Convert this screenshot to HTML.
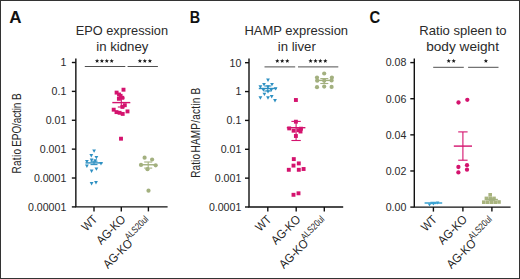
<!DOCTYPE html><html><head><meta charset="utf-8"><style>html,body{margin:0;padding:0;background:#fff;overflow:hidden}svg{display:block}text{font-family:"Liberation Sans",sans-serif}</style></head><body>
<svg width="520" height="279" viewBox="0 0 520 279">
<rect x="0" y="0" width="520" height="279" fill="#fff"/>
<rect x="0.5" y="0.5" width="519" height="278" fill="none" stroke="#333" stroke-width="1"/>
<text x="9.2" y="22.5" font-size="17" font-weight="bold" fill="#111">A</text>
<text x="189.7" y="22.5" font-size="17" font-weight="bold" textLength="10.4" lengthAdjust="spacingAndGlyphs" fill="#111">B</text>
<text x="369.6" y="22.6" font-size="17" font-weight="bold" textLength="10.7" lengthAdjust="spacingAndGlyphs" fill="#111">C</text>
<text x="75.7" y="35.4" font-size="13" textLength="92.3" lengthAdjust="spacingAndGlyphs" fill="#2a2a2a">EPO expression</text>
<text x="96.3" y="51.0" font-size="13" textLength="52.1" lengthAdjust="spacingAndGlyphs" fill="#2a2a2a">in kidney</text>
<text x="244.4" y="35.4" font-size="13" textLength="103.7" lengthAdjust="spacingAndGlyphs" fill="#2a2a2a">HAMP expression</text>
<text x="277.8" y="51.0" font-size="13" textLength="38.0" lengthAdjust="spacingAndGlyphs" fill="#2a2a2a">in liver</text>
<text x="419.3" y="35.4" font-size="13" textLength="87.3" lengthAdjust="spacingAndGlyphs" fill="#2a2a2a">Ratio spleen to</text>
<text x="426.2" y="51.0" font-size="13" textLength="72.8" lengthAdjust="spacingAndGlyphs" fill="#2a2a2a">body weight</text>
<text transform="translate(21.1,173.60) rotate(-90) scale(0.74,1)" font-size="13.5" letter-spacing="0.464" fill="#262626">Ratio</text>
<text transform="translate(21.1,146.70) rotate(-90) scale(0.74,1)" font-size="13.5" letter-spacing="-0.148" fill="#262626">EPO/actin B</text>
<text transform="translate(200.0,177.80) rotate(-90) scale(0.74,1)" font-size="13.5" letter-spacing="0.160" fill="#262626">Ratio</text>
<text transform="translate(200.0,152.50) rotate(-90) scale(0.74,1)" font-size="13.5" letter-spacing="0.315" fill="#262626">HAMP/actin B</text>
<g stroke="#111" stroke-width="1.4" fill="none"><path d="M75.85,58.6V206.9H167.6"/><line x1="71.85" y1="62.5" x2="75.85" y2="62.5"/><line x1="71.85" y1="91.38" x2="75.85" y2="91.38"/><line x1="71.85" y1="120.26" x2="75.85" y2="120.26"/><line x1="71.85" y1="149.14000000000001" x2="75.85" y2="149.14000000000001"/><line x1="71.85" y1="178.02" x2="75.85" y2="178.02"/><line x1="71.85" y1="206.9" x2="75.85" y2="206.9"/><line x1="94.0" y1="206.9" x2="94.0" y2="211.4"/><line x1="121.3" y1="206.9" x2="121.3" y2="211.4"/><line x1="148.4" y1="206.9" x2="148.4" y2="211.4"/></g><text x="66.3" y="66.35" font-size="10.6" text-anchor="end" fill="#2a2a2a">1</text><text x="66.3" y="95.23" font-size="10.6" text-anchor="end" fill="#2a2a2a">0.1</text><text x="66.3" y="124.11" font-size="10.6" text-anchor="end" fill="#2a2a2a">0.01</text><text x="66.3" y="152.99" font-size="10.6" text-anchor="end" fill="#2a2a2a">0.001</text><text x="66.3" y="181.87" font-size="10.6" text-anchor="end" fill="#2a2a2a">0.0001</text><text x="66.3" y="210.75" font-size="10.6" text-anchor="end" fill="#2a2a2a">0.00001</text>
<text transform="translate(98.20,220.20) rotate(-45)" font-size="12.2" text-anchor="end" textLength="16.5" lengthAdjust="spacingAndGlyphs" fill="#222">WT</text><text transform="translate(101.20,245.20) rotate(-45)" font-size="12.2" textLength="35.5" lengthAdjust="spacingAndGlyphs" fill="#222">AG-KO</text><g transform="translate(108.10,269.20) rotate(-45)"><text font-size="12.2" textLength="35.5" lengthAdjust="spacingAndGlyphs" fill="#222">AG-KO</text><text x="34.9" y="-6.0" font-size="9.5" textLength="29.0" lengthAdjust="spacingAndGlyphs" fill="#222">ALS20ul</text></g>
<g stroke="#111" stroke-width="1.4" fill="none"><path d="M249.0,58.6V207.0H343.2"/><line x1="245.0" y1="62.7" x2="249.0" y2="62.7"/><line x1="245.0" y1="91.56" x2="249.0" y2="91.56"/><line x1="245.0" y1="120.42000000000002" x2="249.0" y2="120.42000000000002"/><line x1="245.0" y1="149.28000000000003" x2="249.0" y2="149.28000000000003"/><line x1="245.0" y1="178.14000000000001" x2="249.0" y2="178.14000000000001"/><line x1="245.0" y1="207.0" x2="249.0" y2="207.0"/><line x1="267.8" y1="207.0" x2="267.8" y2="211.5"/><line x1="296.2" y1="207.0" x2="296.2" y2="211.5"/><line x1="324.3" y1="207.0" x2="324.3" y2="211.5"/></g><text x="241.3" y="66.55" font-size="10.6" text-anchor="end" fill="#2a2a2a">10</text><text x="241.3" y="95.41" font-size="10.6" text-anchor="end" fill="#2a2a2a">1</text><text x="241.3" y="124.27" font-size="10.6" text-anchor="end" fill="#2a2a2a">0.1</text><text x="241.3" y="153.13" font-size="10.6" text-anchor="end" fill="#2a2a2a">0.01</text><text x="241.3" y="181.99" font-size="10.6" text-anchor="end" fill="#2a2a2a">0.001</text><text x="241.3" y="210.85" font-size="10.6" text-anchor="end" fill="#2a2a2a">0.0001</text>
<text transform="translate(272.00,220.30) rotate(-45)" font-size="12.2" text-anchor="end" textLength="16.5" lengthAdjust="spacingAndGlyphs" fill="#222">WT</text><text transform="translate(276.10,245.30) rotate(-45)" font-size="12.2" textLength="35.5" lengthAdjust="spacingAndGlyphs" fill="#222">AG-KO</text><g transform="translate(284.00,269.30) rotate(-45)"><text font-size="12.2" textLength="35.5" lengthAdjust="spacingAndGlyphs" fill="#222">AG-KO</text><text x="34.9" y="-6.0" font-size="9.5" textLength="29.0" lengthAdjust="spacingAndGlyphs" fill="#222">ALS20ul</text></g>
<g stroke="#111" stroke-width="1.4" fill="none"><path d="M414.3,58.6V207.1H510.6"/><line x1="410.3" y1="62.6" x2="414.3" y2="62.6"/><line x1="410.3" y1="98.725" x2="414.3" y2="98.725"/><line x1="410.3" y1="134.85" x2="414.3" y2="134.85"/><line x1="410.3" y1="170.975" x2="414.3" y2="170.975"/><line x1="410.3" y1="207.1" x2="414.3" y2="207.1"/><line x1="433.4" y1="207.1" x2="433.4" y2="211.6"/><line x1="462.9" y1="207.1" x2="462.9" y2="211.6"/><line x1="491.9" y1="207.1" x2="491.9" y2="211.6"/></g><text x="406.3" y="66.45" font-size="10.6" text-anchor="end" fill="#2a2a2a">0.08</text><text x="406.3" y="102.57" font-size="10.6" text-anchor="end" fill="#2a2a2a">0.06</text><text x="406.3" y="138.70" font-size="10.6" text-anchor="end" fill="#2a2a2a">0.04</text><text x="406.3" y="174.82" font-size="10.6" text-anchor="end" fill="#2a2a2a">0.02</text><text x="406.3" y="210.95" font-size="10.6" text-anchor="end" fill="#2a2a2a">0.00</text>
<text transform="translate(437.60,220.30) rotate(-45)" font-size="12.2" text-anchor="end" textLength="16.5" lengthAdjust="spacingAndGlyphs" fill="#222">WT</text><text transform="translate(442.80,245.30) rotate(-45)" font-size="12.2" textLength="35.5" lengthAdjust="spacingAndGlyphs" fill="#222">AG-KO</text><g transform="translate(451.60,269.30) rotate(-45)"><text font-size="12.2" textLength="35.5" lengthAdjust="spacingAndGlyphs" fill="#222">AG-KO</text><text x="34.9" y="-6.0" font-size="9.5" textLength="29.0" lengthAdjust="spacingAndGlyphs" fill="#222">ALS20ul</text></g>
<line x1="84.8" y1="66.5" x2="125.3" y2="66.5" stroke="#505050" stroke-width="1.0"/><polygon points="97.10,58.70 97.71,60.16 99.29,60.29 98.08,61.32 98.45,62.86 97.10,62.03 95.75,62.86 96.12,61.32 94.91,60.29 96.49,60.16" fill="#1a1a1a"/><polygon points="101.90,58.70 102.51,60.16 104.09,60.29 102.88,61.32 103.25,62.86 101.90,62.03 100.55,62.86 100.92,61.32 99.71,60.29 101.29,60.16" fill="#1a1a1a"/><polygon points="106.80,58.70 107.41,60.16 108.99,60.29 107.78,61.32 108.15,62.86 106.80,62.03 105.45,62.86 105.82,61.32 104.61,60.29 106.19,60.16" fill="#1a1a1a"/><polygon points="111.70,58.70 112.31,60.16 113.89,60.29 112.68,61.32 113.05,62.86 111.70,62.03 110.35,62.86 110.72,61.32 109.51,60.29 111.09,60.16" fill="#1a1a1a"/>
<line x1="127.6" y1="66.5" x2="157.9" y2="66.5" stroke="#505050" stroke-width="1.0"/><polygon points="139.90,58.70 140.51,60.16 142.09,60.29 140.88,61.32 141.25,62.86 139.90,62.03 138.55,62.86 138.92,61.32 137.71,60.29 139.29,60.16" fill="#1a1a1a"/><polygon points="144.80,58.70 145.41,60.16 146.99,60.29 145.78,61.32 146.15,62.86 144.80,62.03 143.45,62.86 143.82,61.32 142.61,60.29 144.19,60.16" fill="#1a1a1a"/><polygon points="149.90,58.70 150.51,60.16 152.09,60.29 150.88,61.32 151.25,62.86 149.90,62.03 148.55,62.86 148.92,61.32 147.71,60.29 149.29,60.16" fill="#1a1a1a"/>
<line x1="264.5" y1="66.9" x2="295.2" y2="66.9" stroke="#505050" stroke-width="1.0"/><polygon points="277.30,58.70 277.91,60.16 279.49,60.29 278.28,61.32 278.65,62.86 277.30,62.03 275.95,62.86 276.32,61.32 275.11,60.29 276.69,60.16" fill="#1a1a1a"/><polygon points="282.20,58.70 282.81,60.16 284.39,60.29 283.18,61.32 283.55,62.86 282.20,62.03 280.85,62.86 281.22,61.32 280.01,60.29 281.59,60.16" fill="#1a1a1a"/><polygon points="287.30,58.70 287.91,60.16 289.49,60.29 288.28,61.32 288.65,62.86 287.30,62.03 285.95,62.86 286.32,61.32 285.11,60.29 286.69,60.16" fill="#1a1a1a"/>
<line x1="298.0" y1="66.9" x2="338.3" y2="66.9" stroke="#505050" stroke-width="1.0"/><polygon points="310.60,58.70 311.21,60.16 312.79,60.29 311.58,61.32 311.95,62.86 310.60,62.03 309.25,62.86 309.62,61.32 308.41,60.29 309.99,60.16" fill="#1a1a1a"/><polygon points="315.50,58.70 316.11,60.16 317.69,60.29 316.48,61.32 316.85,62.86 315.50,62.03 314.15,62.86 314.52,61.32 313.31,60.29 314.89,60.16" fill="#1a1a1a"/><polygon points="320.30,58.70 320.91,60.16 322.49,60.29 321.28,61.32 321.65,62.86 320.30,62.03 318.95,62.86 319.32,61.32 318.11,60.29 319.69,60.16" fill="#1a1a1a"/><polygon points="325.30,58.70 325.91,60.16 327.49,60.29 326.28,61.32 326.65,62.86 325.30,62.03 323.95,62.86 324.32,61.32 323.11,60.29 324.69,60.16" fill="#1a1a1a"/>
<line x1="433.2" y1="67.3" x2="463.8" y2="67.3" stroke="#505050" stroke-width="1.0"/><polygon points="448.70,58.70 449.31,60.16 450.89,60.29 449.68,61.32 450.05,62.86 448.70,62.03 447.35,62.86 447.72,61.32 446.51,60.29 448.09,60.16" fill="#1a1a1a"/><polygon points="453.70,58.70 454.31,60.16 455.89,60.29 454.68,61.32 455.05,62.86 453.70,62.03 452.35,62.86 452.72,61.32 451.51,60.29 453.09,60.16" fill="#1a1a1a"/>
<line x1="468.1" y1="67.3" x2="498.5" y2="67.3" stroke="#505050" stroke-width="1.0"/><polygon points="485.90,58.70 486.51,60.16 488.09,60.29 486.88,61.32 487.25,62.86 485.90,62.03 484.55,62.86 484.92,61.32 483.71,60.29 485.29,60.16" fill="#1a1a1a"/>
<path d="M92.20,149.39L96.00,149.39L94.10,152.81Z" fill="#2e90c2"/>
<path d="M89.40,153.99L93.20,153.99L91.30,157.41Z" fill="#2e90c2"/>
<path d="M94.50,155.89L98.30,155.89L96.40,159.31Z" fill="#2e90c2"/>
<path d="M89.70,158.49L93.50,158.49L91.60,161.91Z" fill="#2e90c2"/>
<path d="M85.00,159.89L88.80,159.89L86.90,163.31Z" fill="#2e90c2"/>
<path d="M93.30,159.19L97.10,159.19L95.20,162.61Z" fill="#2e90c2"/>
<path d="M99.10,162.09L102.90,162.09L101.00,165.51Z" fill="#2e90c2"/>
<path d="M85.00,164.49L88.80,164.49L86.90,167.91Z" fill="#2e90c2"/>
<path d="M94.50,167.39L98.30,167.39L96.40,170.81Z" fill="#2e90c2"/>
<path d="M89.70,169.49L93.50,169.49L91.60,172.91Z" fill="#2e90c2"/>
<path d="M89.70,182.09L93.50,182.09L91.60,185.51Z" fill="#2e90c2"/>
<path d="M94.10,180.99L97.90,180.99L96.00,184.41Z" fill="#2e90c2"/>
<g stroke="#2e90c2" fill="none"><line x1="85.5" y1="162.9" x2="102.5" y2="162.9" stroke-width="1.4"/><line x1="94.0" y1="161.2" x2="94.0" y2="164.6" stroke-width="1.1"/><line x1="90.5" y1="161.2" x2="97.5" y2="161.2" stroke-width="1.1"/><line x1="90.5" y1="164.6" x2="97.5" y2="164.6" stroke-width="1.1"/></g>
<rect x="121.55" y="87.75" width="3.9" height="3.9" fill="#d4136e"/>
<rect x="114.65" y="90.65" width="3.9" height="3.9" fill="#d4136e"/>
<rect x="117.05" y="92.55" width="3.9" height="3.9" fill="#d4136e"/>
<rect x="118.65" y="93.85" width="3.9" height="3.9" fill="#d4136e"/>
<rect x="120.35" y="95.85" width="3.9" height="3.9" fill="#d4136e"/>
<rect x="116.95" y="96.85" width="3.9" height="3.9" fill="#d4136e"/>
<rect x="122.85" y="103.25" width="3.9" height="3.9" fill="#d4136e"/>
<rect x="120.45" y="104.95" width="3.9" height="3.9" fill="#d4136e"/>
<rect x="111.75" y="107.75" width="3.9" height="3.9" fill="#d4136e"/>
<rect x="114.55" y="110.15" width="3.9" height="3.9" fill="#d4136e"/>
<rect x="117.65" y="110.85" width="3.9" height="3.9" fill="#d4136e"/>
<rect x="120.75" y="111.95" width="3.9" height="3.9" fill="#d4136e"/>
<rect x="125.55" y="109.45" width="3.9" height="3.9" fill="#d4136e"/>
<rect x="119.05" y="136.75" width="3.9" height="3.9" fill="#d4136e"/>
<g stroke="#d4136e" fill="none"><line x1="112.3" y1="102.6" x2="130.3" y2="102.6" stroke-width="1.4"/><line x1="121.3" y1="98.0" x2="121.3" y2="107.0" stroke-width="1.1"/><line x1="117.8" y1="98.0" x2="124.8" y2="98.0" stroke-width="1.1"/><line x1="117.8" y1="107.0" x2="124.8" y2="107.0" stroke-width="1.1"/></g>
<circle cx="144.60" cy="157.70" r="2.1" fill="#a3b07f"/>
<circle cx="152.10" cy="159.50" r="2.1" fill="#a3b07f"/>
<circle cx="141.00" cy="164.90" r="2.1" fill="#a3b07f"/>
<circle cx="155.70" cy="165.30" r="2.1" fill="#a3b07f"/>
<circle cx="147.50" cy="169.20" r="2.1" fill="#a3b07f"/>
<circle cx="148.50" cy="190.70" r="2.1" fill="#a3b07f"/>
<g stroke="#a3b07f" fill="none"><line x1="139.7" y1="164.75" x2="156.7" y2="164.75" stroke-width="1.4"/><line x1="148.2" y1="162.0" x2="148.2" y2="168.1" stroke-width="1.1"/><line x1="144.2" y1="162.0" x2="152.2" y2="162.0" stroke-width="1.1"/><line x1="144.2" y1="168.1" x2="152.2" y2="168.1" stroke-width="1.1"/></g>
<path d="M266.10,78.59L269.90,78.59L268.00,82.01Z" fill="#2e90c2"/>
<path d="M262.10,82.89L265.90,82.89L264.00,86.31Z" fill="#2e90c2"/>
<path d="M270.10,82.89L273.90,82.89L272.00,86.31Z" fill="#2e90c2"/>
<path d="M258.50,85.29L262.30,85.29L260.40,88.71Z" fill="#2e90c2"/>
<path d="M266.10,85.29L269.90,85.29L268.00,88.71Z" fill="#2e90c2"/>
<path d="M273.70,87.19L277.50,87.19L275.60,90.61Z" fill="#2e90c2"/>
<path d="M261.50,88.39L265.30,88.39L263.40,91.81Z" fill="#2e90c2"/>
<path d="M269.40,88.39L273.20,88.39L271.30,91.81Z" fill="#2e90c2"/>
<path d="M266.10,90.19L269.90,90.19L268.00,93.61Z" fill="#2e90c2"/>
<path d="M262.50,92.69L266.30,92.69L264.40,96.11Z" fill="#2e90c2"/>
<path d="M258.50,96.29L262.30,96.29L260.40,99.71Z" fill="#2e90c2"/>
<path d="M266.10,96.29L269.90,96.29L268.00,99.71Z" fill="#2e90c2"/>
<path d="M269.80,95.09L273.60,95.09L271.70,98.51Z" fill="#2e90c2"/>
<path d="M273.10,98.99L276.90,98.99L275.00,102.41Z" fill="#2e90c2"/>
<g stroke="#2e90c2" fill="none"><line x1="258.8" y1="88.5" x2="276.8" y2="88.5" stroke-width="1.4"/><line x1="267.8" y1="86.0" x2="267.8" y2="91.0" stroke-width="1.1"/><line x1="264.3" y1="86.0" x2="271.3" y2="86.0" stroke-width="1.1"/><line x1="264.3" y1="91.0" x2="271.3" y2="91.0" stroke-width="1.1"/></g>
<rect x="293.95" y="98.05" width="3.9" height="3.9" fill="#d4136e"/>
<rect x="293.95" y="119.75" width="3.9" height="3.9" fill="#d4136e"/>
<rect x="287.25" y="126.45" width="3.9" height="3.9" fill="#d4136e"/>
<rect x="291.65" y="128.75" width="3.9" height="3.9" fill="#d4136e"/>
<rect x="296.65" y="128.25" width="3.9" height="3.9" fill="#d4136e"/>
<rect x="299.05" y="126.75" width="3.9" height="3.9" fill="#d4136e"/>
<rect x="298.55" y="129.55" width="3.9" height="3.9" fill="#d4136e"/>
<rect x="293.95" y="134.05" width="3.9" height="3.9" fill="#d4136e"/>
<rect x="291.85" y="157.15" width="3.9" height="3.9" fill="#d4136e"/>
<rect x="296.85" y="161.45" width="3.9" height="3.9" fill="#d4136e"/>
<rect x="291.55" y="163.65" width="3.9" height="3.9" fill="#d4136e"/>
<rect x="286.85" y="167.85" width="3.9" height="3.9" fill="#d4136e"/>
<rect x="296.85" y="167.85" width="3.9" height="3.9" fill="#d4136e"/>
<rect x="301.65" y="167.05" width="3.9" height="3.9" fill="#d4136e"/>
<rect x="291.55" y="192.85" width="3.9" height="3.9" fill="#d4136e"/>
<rect x="296.55" y="191.35" width="3.9" height="3.9" fill="#d4136e"/>
<g stroke="#d4136e" fill="none"><line x1="286.8" y1="127.7" x2="305.40000000000003" y2="127.7" stroke-width="1.4"/><line x1="296.1" y1="121.4" x2="296.1" y2="140.5" stroke-width="1.1"/><line x1="291.40000000000003" y1="121.4" x2="300.8" y2="121.4" stroke-width="1.1"/><line x1="291.40000000000003" y1="140.5" x2="300.8" y2="140.5" stroke-width="1.1"/></g>
<circle cx="324.20" cy="73.50" r="2.1" fill="#a3b07f"/>
<circle cx="317.00" cy="77.60" r="2.1" fill="#a3b07f"/>
<circle cx="331.90" cy="77.60" r="2.1" fill="#a3b07f"/>
<circle cx="317.20" cy="80.70" r="2.1" fill="#a3b07f"/>
<circle cx="324.20" cy="80.70" r="2.1" fill="#a3b07f"/>
<circle cx="331.60" cy="80.40" r="2.1" fill="#a3b07f"/>
<circle cx="317.00" cy="87.20" r="2.1" fill="#a3b07f"/>
<circle cx="324.20" cy="86.60" r="2.1" fill="#a3b07f"/>
<circle cx="331.60" cy="86.90" r="2.1" fill="#a3b07f"/>
<g stroke="#a3b07f" fill="none"><line x1="315.7" y1="80.4" x2="332.90000000000003" y2="80.4" stroke-width="1.4"/><line x1="324.3" y1="78.6" x2="324.3" y2="83.5" stroke-width="1.1"/><line x1="320.3" y1="78.6" x2="328.3" y2="78.6" stroke-width="1.1"/><line x1="320.3" y1="83.5" x2="328.3" y2="83.5" stroke-width="1.1"/></g>
<path d="M427.80,203.47L431.20,203.47L429.50,206.53Z" fill="#3298c8"/>
<path d="M436.00,201.47L439.40,201.47L437.70,204.53Z" fill="#3298c8"/>
<path d="M431.70,202.47L435.10,202.47L433.40,205.53Z" fill="#3298c8"/>
<g stroke="#3aa2d2" fill="none"><line x1="424.59999999999997" y1="203.0" x2="442.2" y2="203.0" stroke-width="1.5"/><line x1="433.4" y1="202.3" x2="433.4" y2="203.6" stroke-width="1.1"/><line x1="430.4" y1="202.3" x2="436.4" y2="202.3" stroke-width="1.1"/><line x1="430.4" y1="203.6" x2="436.4" y2="203.6" stroke-width="1.1"/></g>
<circle cx="458.50" cy="102.50" r="2.15" fill="#d4136e"/>
<circle cx="467.30" cy="99.80" r="2.15" fill="#d4136e"/>
<circle cx="458.40" cy="167.00" r="2.15" fill="#d4136e"/>
<circle cx="467.00" cy="165.20" r="2.15" fill="#d4136e"/>
<circle cx="467.00" cy="169.70" r="2.15" fill="#d4136e"/>
<circle cx="458.40" cy="172.40" r="2.15" fill="#d4136e"/>
<g stroke="#d4136e" fill="none"><line x1="453.79999999999995" y1="146.1" x2="472.0" y2="146.1" stroke-width="1.4"/><line x1="462.9" y1="131.9" x2="462.9" y2="160.2" stroke-width="1.1"/><line x1="458.2" y1="131.9" x2="467.59999999999997" y2="131.9" stroke-width="1.1"/><line x1="458.2" y1="160.2" x2="467.59999999999997" y2="160.2" stroke-width="1.1"/></g>
<rect x="488.40" y="193.00" width="3.6" height="3.6" fill="#a9b47f"/>
<rect x="484.60" y="196.60" width="3.6" height="3.6" fill="#a9b47f"/>
<rect x="488.40" y="196.60" width="3.6" height="3.6" fill="#a9b47f"/>
<rect x="492.20" y="196.60" width="3.6" height="3.6" fill="#a9b47f"/>
<rect x="482.00" y="200.40" width="3.6" height="3.6" fill="#a9b47f"/>
<rect x="485.80" y="200.40" width="3.6" height="3.6" fill="#a9b47f"/>
<rect x="489.60" y="200.40" width="3.6" height="3.6" fill="#a9b47f"/>
<rect x="493.40" y="200.40" width="3.6" height="3.6" fill="#a9b47f"/>
<rect x="497.20" y="200.20" width="3.6" height="3.6" fill="#a9b47f"/>
<g stroke="#a3b07f" fill="none"><line x1="485.9" y1="199.5" x2="497.9" y2="199.5" stroke-width="1.4"/><line x1="491.9" y1="198.8" x2="491.9" y2="200.3" stroke-width="1.1"/><line x1="488.9" y1="198.8" x2="494.9" y2="198.8" stroke-width="1.1"/><line x1="488.9" y1="200.3" x2="494.9" y2="200.3" stroke-width="1.1"/></g>
</svg></body></html>
